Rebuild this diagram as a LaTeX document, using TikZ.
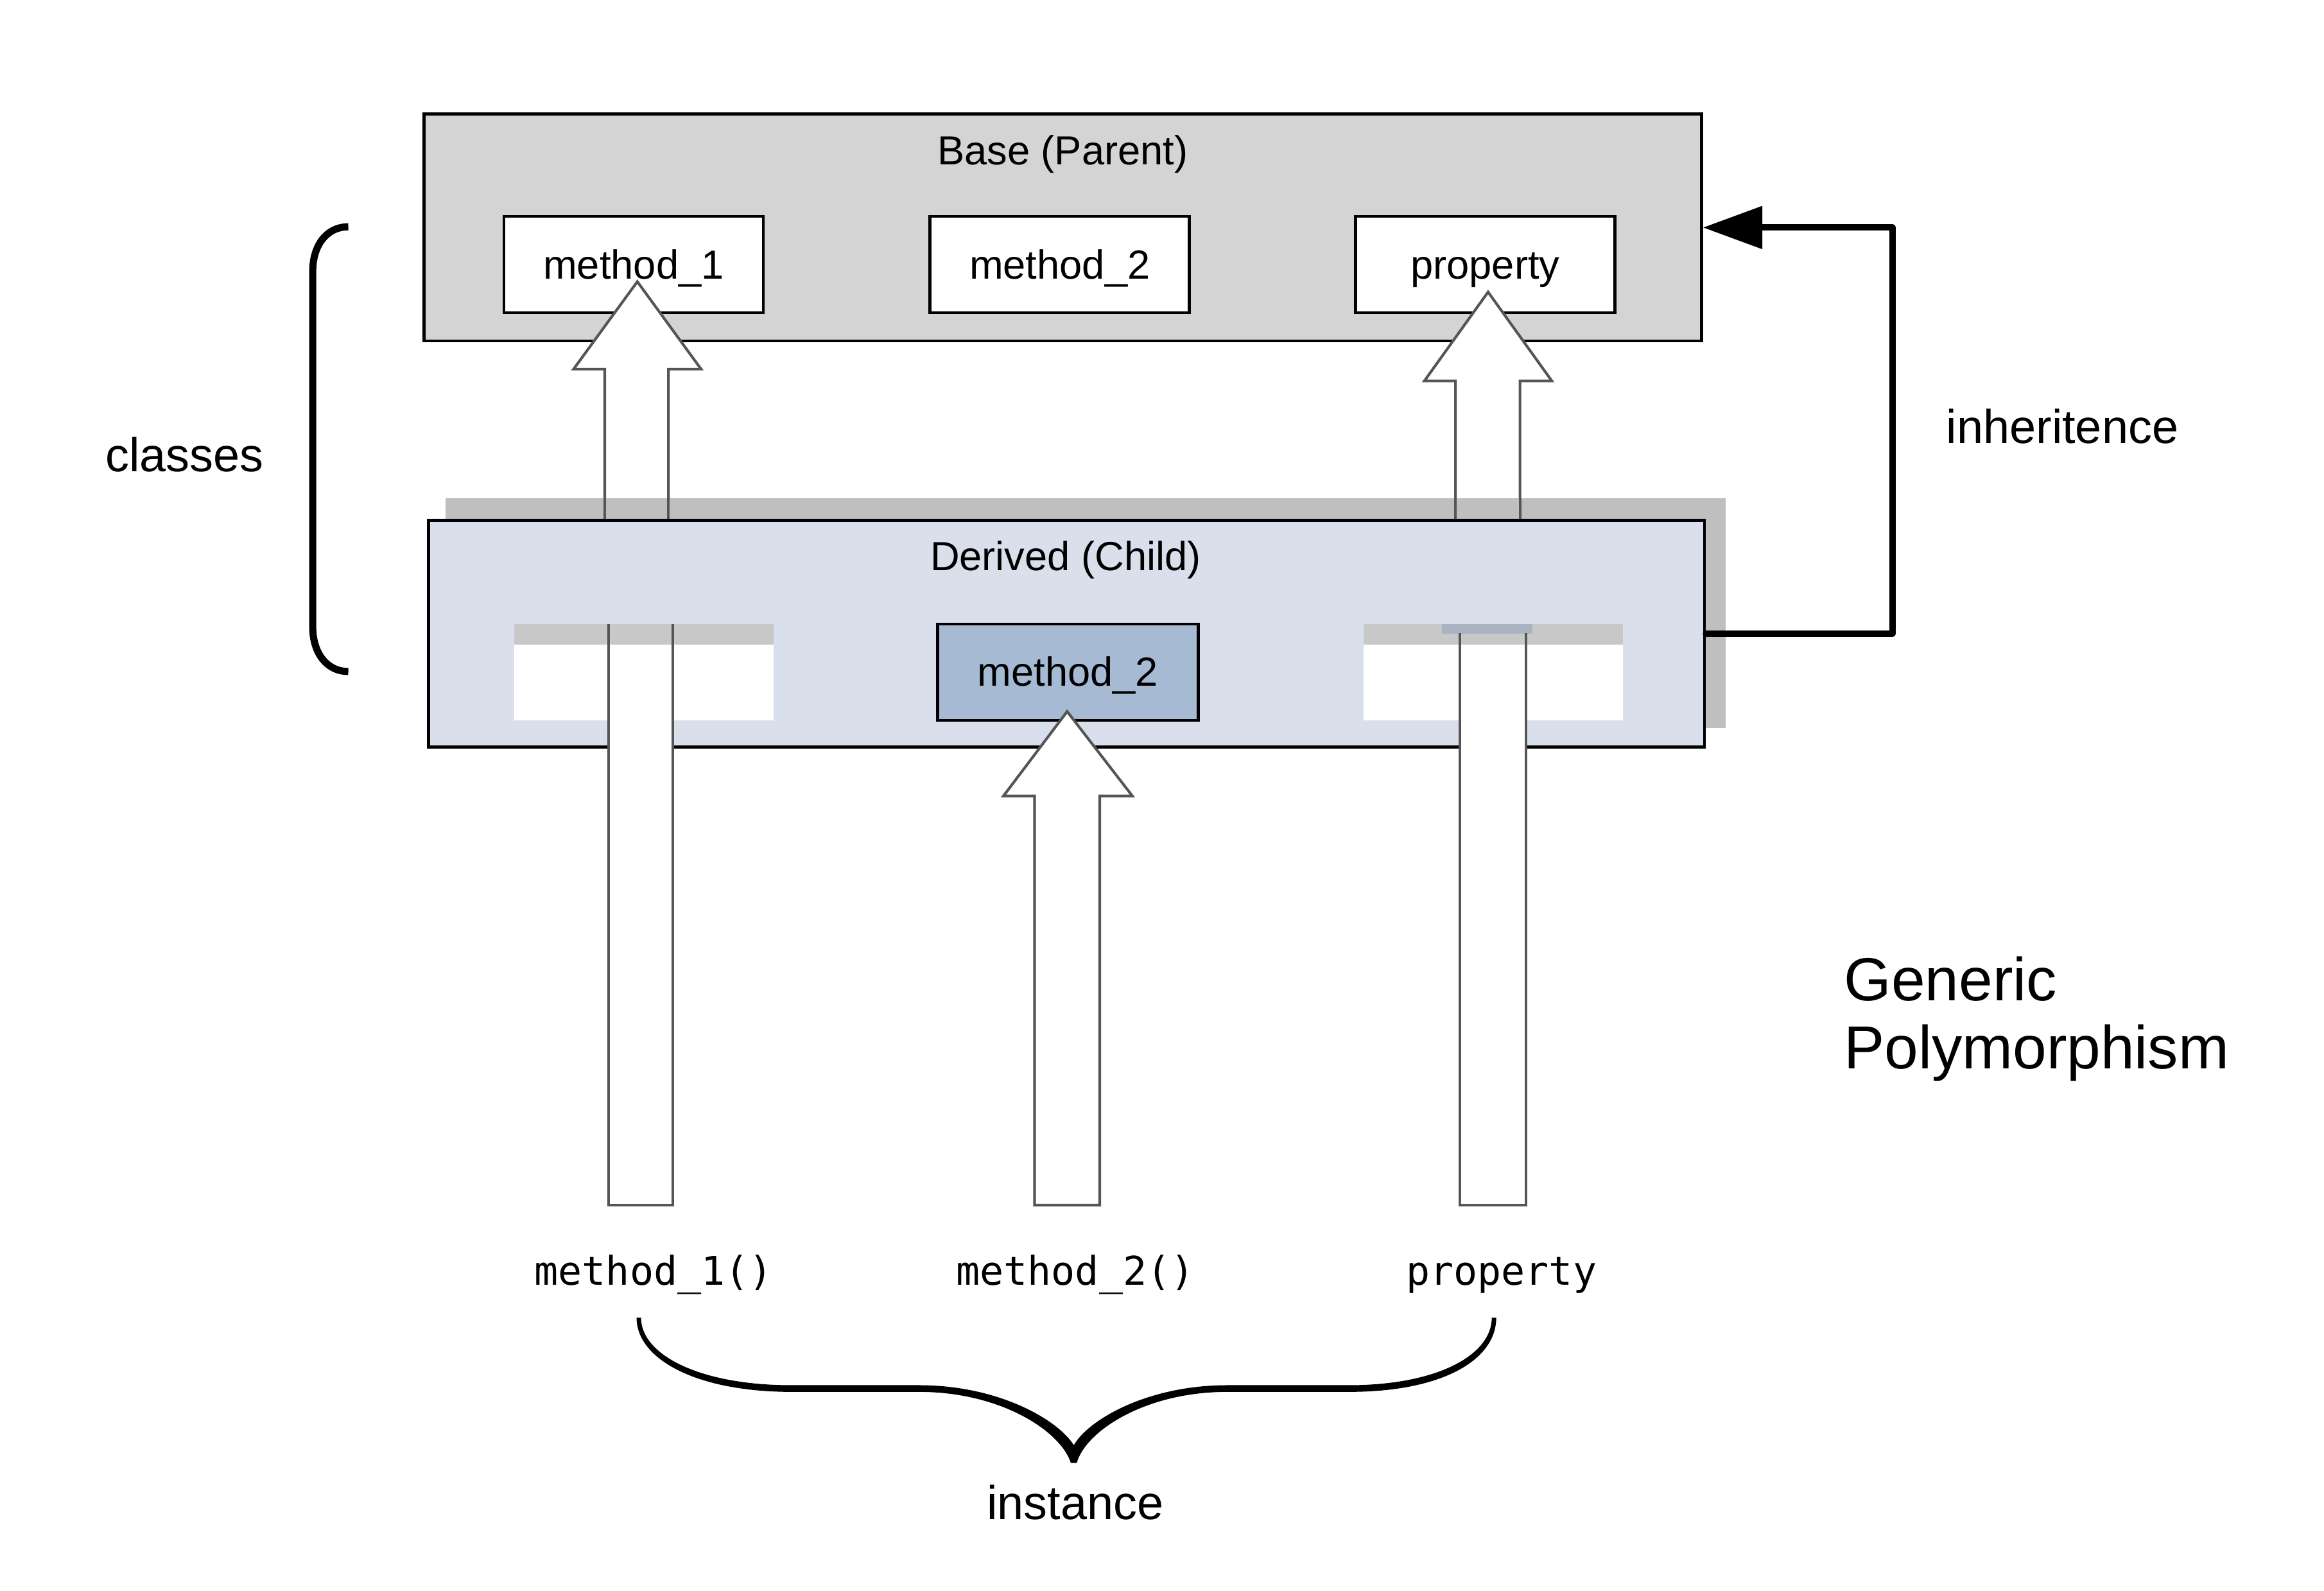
\documentclass[tikz,border=0pt]{standalone}
\usepackage{fontspec}
\setmainfont{Liberation Sans}
\newfontfamily\monof{DejaVu Sans Mono}
\usetikzlibrary{arrows.meta}
\definecolor{basefill}{HTML}{D4D4D4}
\definecolor{derfill}{HTML}{D9E0EC}
\definecolor{shadowgray}{HTML}{BFBFBF}
\definecolor{stripgray}{HTML}{C8C8C8}
\definecolor{ovfill}{HTML}{A6BAD3}
\definecolor{slate}{HTML}{A9B3C1}
\definecolor{arrowline}{HTML}{555555}
\tikzset{
  classbox/.style={draw=black, line width=2pt, inner sep=0pt},
  membox/.style={draw=black, line width=2pt, fill=white, inner sep=0pt,
    minimum width=175pt, minimum height=65pt,
    text height=19pt, text depth=0pt, font=\fontsize{27.4}{30}\selectfont},
  boxlabel/.style={inner sep=0pt, anchor=base, font=\fontsize{27.4}{30}\selectfont},
  sidelabel/.style={inner sep=0pt, anchor=base west, font=\fontsize{32}{36}\selectfont},
  codelabel/.style={inner sep=0pt, anchor=base, font=\monof\fontsize{26.7}{30}\selectfont},
  bigarrow/.style={draw=arrowline, line width=1.8pt, fill=white, line join=miter},
  shaftline/.style={draw=arrowline, line width=1.8pt},
  thickline/.style={line width=4.4pt, line join=round, line cap=round},
}
\begin{document}
\begin{tikzpicture}[x=1pt, y=-1pt]
\useasboundingbox (0,0) rectangle (1568,1073);

% ---- Base class ----
\node[classbox, fill=basefill, minimum width=862pt, minimum height=153pt] (base) at (717,153.5) {};
\node[boxlabel] (basetitle) at (717,111) {Base (Parent)};
\node[membox] (bm1) at (427.5,178.5) {method\_1};
\node[membox] (bm2) at (715,178.5) {method\_2};
\node[membox] (bpr) at (1002,178.5) {property};

% ---- arrows into the base class ----
\draw[bigarrow] (408,360) -- (408,249) -- (387,249) -- (430,190) -- (473,249) -- (451,249) -- (451,360);
\draw[bigarrow] (982,360) -- (982,257) -- (961,257) -- (1004,197) -- (1047,257) -- (1025.5,257) -- (1025.5,360);

% ---- shadow of derived (covers the shaft feet, lines stay visible) ----
\fill[shadowgray] (300.5,336) rectangle (1164.5,491);
\draw[shaftline] (408,336) -- (408,352) (451,336) -- (451,352)
                 (982,336) -- (982,352) (1025.5,336) -- (1025.5,352);

% ---- Derived class ----
\node[classbox, fill=derfill, minimum width=861pt, minimum height=153pt] (derived) at (719.5,427.5) {};
\node[boxlabel] (dertitle) at (719,384.7) {Derived (Child)};

% ghost (inherited) slots
\fill[white] (347,421) rectangle (522,486);
\fill[white] (920,421) rectangle (1095,486);
\node[membox, fill=ovfill, minimum width=176pt] (dm2) at (720.5,453.5) {method\_2};

% long shafts
\fill[white] (410.5,421) rectangle (454,813);
\fill[white] (985,427) rectangle (1029.5,813);
\fill[stripgray] (347,421) rectangle (522,435);
\fill[stripgray] (920,421) rectangle (1095,435);
\fill[slate] (973,421) rectangle (1034,427.5);
\draw[shaftline] (410.5,421) -- (410.5,813) -- (454,813) -- (454,421);
\draw[shaftline] (985,427) -- (985,813) -- (1029.5,813) -- (1029.5,427);

% middle arrow
\draw[bigarrow] (698,813) -- (698,537) -- (677,537) -- (720,480) -- (764,537) -- (742,537) -- (742,813) -- cycle;

% ---- inheritance connector ----
\coordinate (inhcorner) at (1277,427.5);
\draw[thickline, -{Triangle[length=40pt, width=28pt]}] (derived.east) -- (inhcorner) |- (base.east);
\node[sidelabel] (inh) at (1313,299) {inheritence};

% ---- classes bracket ----
\coordinate (brtop) at (235,153);
\coordinate (brbot) at (235,453);
\draw[line width=4.8pt] (brtop) .. controls (220,153) and (211,166) .. (211,183) -- (211,423) .. controls (211,440) and (220,453) .. (brbot);
\node[sidelabel] (classes) at (71,318) {classes};

% ---- instance labels ----
\node[codelabel] (c1) at (441,867) {method\_1()};
\node[codelabel] (c2) at (725.5,867) {method\_2()};
\node[codelabel] (c3) at (1013,867) {property};

% ---- instance brace ----
\fill[black] (429.5,889) .. controls (429.5,917) and (470,939) .. (534,939) -- (620,939)
  .. controls (676,939) and (716,966) .. (722.5,987) -- (726.5,987)
  .. controls (732,966) and (772,939) .. (828,939) -- (910,939)
  .. controls (974,939) and (1009.5,917) .. (1009.5,889) -- (1006.5,889)
  .. controls (1006.5,914) and (970,934.5) .. (910,934.5) -- (828,934.5)
  .. controls (774,934.5) and (734,958) .. (724.5,975)
  .. controls (714,958) and (674,934.5) .. (620,934.5) -- (534,934.5)
  .. controls (472,934.5) and (432.5,914) .. (432.5,889) -- cycle;
\node[inner sep=0pt, anchor=base, font=\fontsize{32}{36}\selectfont] (inst) at (725.5,1025) {instance};

% ---- title ----
\node[inner sep=0pt, anchor=base west, font=\fontsize{41}{46}\selectfont] (gen1) at (1244,675) {Generic};
\node[inner sep=0pt, anchor=base west, font=\fontsize{41}{46}\selectfont] (gen2) at (1244,721) {Polymorphism};
\end{tikzpicture}
\end{document}
